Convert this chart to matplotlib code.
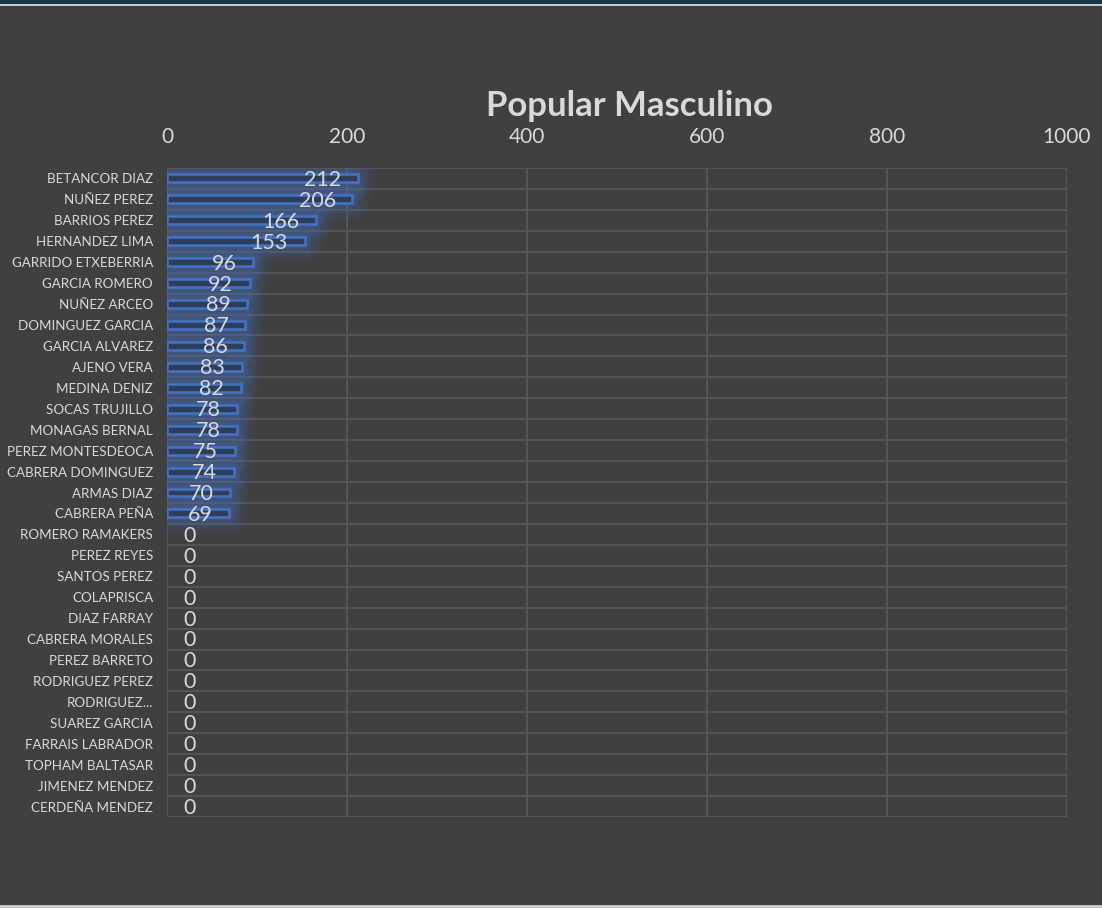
import matplotlib
matplotlib.use("Agg")
import matplotlib.pyplot as plt
from matplotlib.patches import Rectangle

names = [
    "BETANCOR DIAZ", "NUÑEZ PEREZ", "BARRIOS PEREZ", "HERNANDEZ LIMA",
    "GARRIDO ETXEBERRIA", "GARCIA ROMERO", "NUÑEZ ARCEO", "DOMINGUEZ GARCIA",
    "GARCIA ALVAREZ", "AJENO VERA", "MEDINA DENIZ", "SOCAS TRUJILLO",
    "MONAGAS BERNAL", "PEREZ MONTESDEOCA", "CABRERA DOMINGUEZ", "ARMAS DIAZ",
    "CABRERA PEÑA", "ROMERO RAMAKERS", "PEREZ REYES", "SANTOS PEREZ",
    "COLAPRISCA", "DIAZ FARRAY", "CABRERA MORALES", "PEREZ BARRETO",
    "RODRIGUEZ PEREZ", "RODRIGUEZ...", "SUAREZ GARCIA", "FARRAIS LABRADOR",
    "TOPHAM BALTASAR", "JIMENEZ MENDEZ", "CERDEÑA MENDEZ",
]
values = [212, 206, 166, 153, 96, 92, 89, 87, 86, 83, 82, 78, 78, 75, 74, 70, 69,
          0, 0, 0, 0, 0, 0, 0, 0, 0, 0, 0, 0, 0, 0]
x_ticks = [0, 200, 400, 600, 800, 1000]
title = "Popular Masculino"

plt.rcParams["font.family"] = ["Lato", "DejaVu Sans"]

BG = "#404040"
TXT = "#d9d9d9"
GRID = "#575757"
BLUE = "#4472c4"

fig = plt.figure(figsize=(11.02, 9.08), dpi=100, facecolor=BG)
ax = fig.add_axes([167 / 1102, 1 - 817 / 908, 900 / 1102, 649 / 908])
ax.set_facecolor(BG)

n = len(names)
ypos = list(range(n))
ax.set_xlim(0, 1000)
ax.set_ylim(n - 0.5, -0.5)

# grid: vertical at ticks, horizontal at category boundaries
for xv in x_ticks:
    ax.axvline(xv, color=GRID, lw=1.3, zorder=1)
for k in range(n + 1):
    ax.axhline(k - 0.5, color=GRID, lw=1.3, zorder=1)

# soft glow behind bars
h = 0.38
for v, y in zip(values, ypos):
    if v <= 0:
        continue
    for lw, a in [(26, 0.06), (20, 0.08), (14, 0.10), (8, 0.14), (4, 0.18)]:
        ax.add_patch(Rectangle((0, y - h / 2), v, h, facecolor="none",
                               edgecolor=BLUE, lw=lw, alpha=a, zorder=2,
                               joinstyle="round"))
widths = [1.8 if v > 0 else 0 for v in values]
ax.barh(ypos, values, height=h, color="#2f3e58", edgecolor=BLUE,
        linewidth=widths, zorder=3)

# value labels
for v, y in zip(values, ypos):
    if v > 0:
        ax.annotate(str(v), (v, y), xytext=(-12, -1), textcoords="offset points",
                    ha="right", va="center", color=TXT, fontsize=15.5, zorder=4)
    else:
        ax.annotate(str(v), (0, y), xytext=(11.5, -1), textcoords="offset points",
                    ha="left", va="center", color=TXT, fontsize=15.5, zorder=4)

ax.xaxis.tick_top()
ax.set_xticks(x_ticks)
ax.set_xticklabels([str(t) for t in x_ticks])
ax.set_yticks(ypos)
ax.set_yticklabels(names)
ax.tick_params(axis="x", length=0, pad=15, labelsize=15, labelcolor=TXT)
ax.tick_params(axis="y", length=0, pad=10, labelsize=9.6, labelcolor=TXT)
for s in ax.spines.values():
    s.set_visible(False)

fig.text(629 / 1102, 1 - 106 / 908, title, ha="center", va="center",
         fontsize=25, fontweight="bold", color=TXT)

# window edges
fig.patches.append(Rectangle((0, 1 - 4 / 908), 1, 4 / 908, transform=fig.transFigure,
                             facecolor="#17384a", edgecolor="none"))
fig.patches.append(Rectangle((0, 1 - 6 / 908), 1, 2 / 908, transform=fig.transFigure,
                             facecolor="#c8c8c8", edgecolor="none"))
fig.patches.append(Rectangle((0, 0), 1, 3 / 908, transform=fig.transFigure,
                             facecolor="#c8c8c8", edgecolor="none"))

fig.savefig("out.png", dpi=100, facecolor=BG)
